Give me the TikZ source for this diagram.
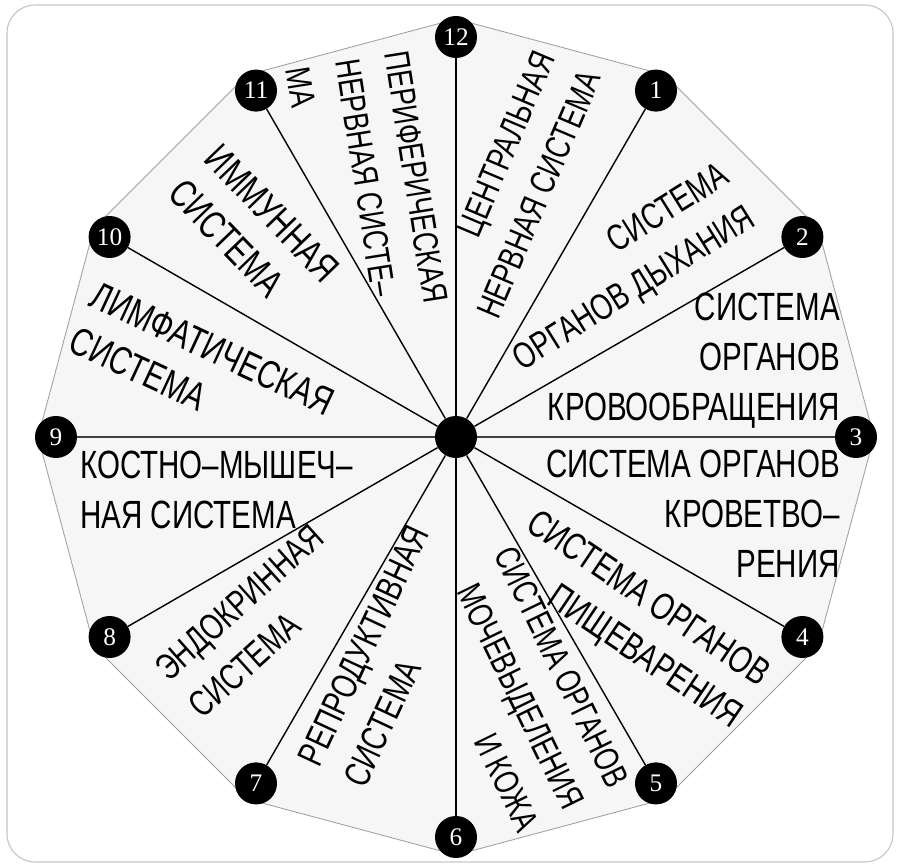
\documentclass[tikz,border=0pt]{standalone}
\usepackage{fontspec}
\setmainfont{Liberation Serif}
\newfontfamily\decofont[FakeStretch=0.75]{Liberation Sans}
\usetikzlibrary{positioning}

\begin{document}
\begin{tikzpicture}[
        x=0.025cm, y=0.025cm,
        frame/.style={draw=gray!45, line width=0.8pt, rounded corners=0.7cm},
        rim/.style={draw=gray!75, fill=gray!7, line width=0.6pt},
        spoke/.style={draw=black, line width=1pt},
        hub/.style={circle, fill=black, minimum size=1.05cm, inner sep=0pt},
        num/.style={circle, fill=black, text=white, minimum size=1.05cm, inner sep=0pt, font=\fontsize{18}{18}\selectfont},
        sector/.style={inner sep=0pt, font=\decofont\fontsize{#1}{35.5}\selectfont},
        sector/.default=28,
    ]
    % Frame and bounding box
    \useasboundingbox (-456,-428) rectangle (442,437);
    \draw[frame] (-449,-425) rectangle (437,432);

    % Dodecagon
    \draw[rim] (90:418) \foreach \a in {60,30,...,-240} { -- (\a:418) } -- cycle;

    % Hub and numbered circles
    \node[hub] (c) at (0,0) {};
    \foreach \i in {1,...,12} {
        \node[num] (n\i) at ({90-30*\i}:400) {\i};
    }

    % Spokes
    \foreach \i in {1,2,4,5,6,7,8,10,11,12} {
        \draw[spoke] (c) -- (n\i);
    }
    \draw[spoke, draw=black!75, line width=1.6pt] (n9) -- (c) -- (n3);

    % Sector labels, right half
    \node[sector=25, align=right, rotate=67] (s12) at (60,252) {ЦЕНТРАЛЬНАЯ\\НЕРВНАЯ СИСТЕМА};
    \node[sector=26, align=right, rotate=32] (s1) at (166,168) {СИСТЕМА\\ОРГАНОВ ДЫХАНИЯ};
    \node[sector, align=right, anchor=east] (s2) at (384,76) {СИСТЕМА\\ОРГАНОВ\\КРОВООБРАЩЕНИЯ};
    \node[sector, align=right, anchor=east] (s3) at (384,-77) {СИСТЕМА ОРГАНОВ\\КРОВЕТВО–\\РЕНИЯ};
    \node[sector=27, align=right, rotate=-34] (s4) at (177,-184) {СИСТЕМА ОРГАНОВ\\ПИЩЕВАРЕНИЯ};
    \node[sector=25, align=right, rotate=-64] (s5) at (61,-252) {СИСТЕМА ОРГАНОВ\\МОЧЕВЫДЕЛЕНИЯ\\И КОЖА};

    % Sector labels, left half
    \node[sector=26, align=left, rotate=65] (s6) at (-70,-219) {РЕПРОДУКТИВНАЯ\\СИСТЕМА};
    \node[sector=26, align=left, rotate=42] (s7) at (-200,-184) {ЭНДОКРИННАЯ\\СИСТЕМА};
    \node[sector, align=left, anchor=west] (s8) at (-376,-53) {КОСТНО–МЫШЕЧ–\\НАЯ СИСТЕМА};
    \node[sector, align=left, rotate=-25] (s9) at (-254,66) {ЛИМФАТИЧЕСКАЯ\\СИСТЕМА};
    \node[sector, align=left, rotate=-46] (s10) at (-202,206) {ИММУННАЯ\\СИСТЕМА};
    \node[sector=25, align=left, rotate=-81] (s11) at (-89,252) {ПЕРИФЕРИЧЕСКАЯ\\НЕРВНАЯ СИСТЕ–\\МА};

\end{tikzpicture}
\end{document}
